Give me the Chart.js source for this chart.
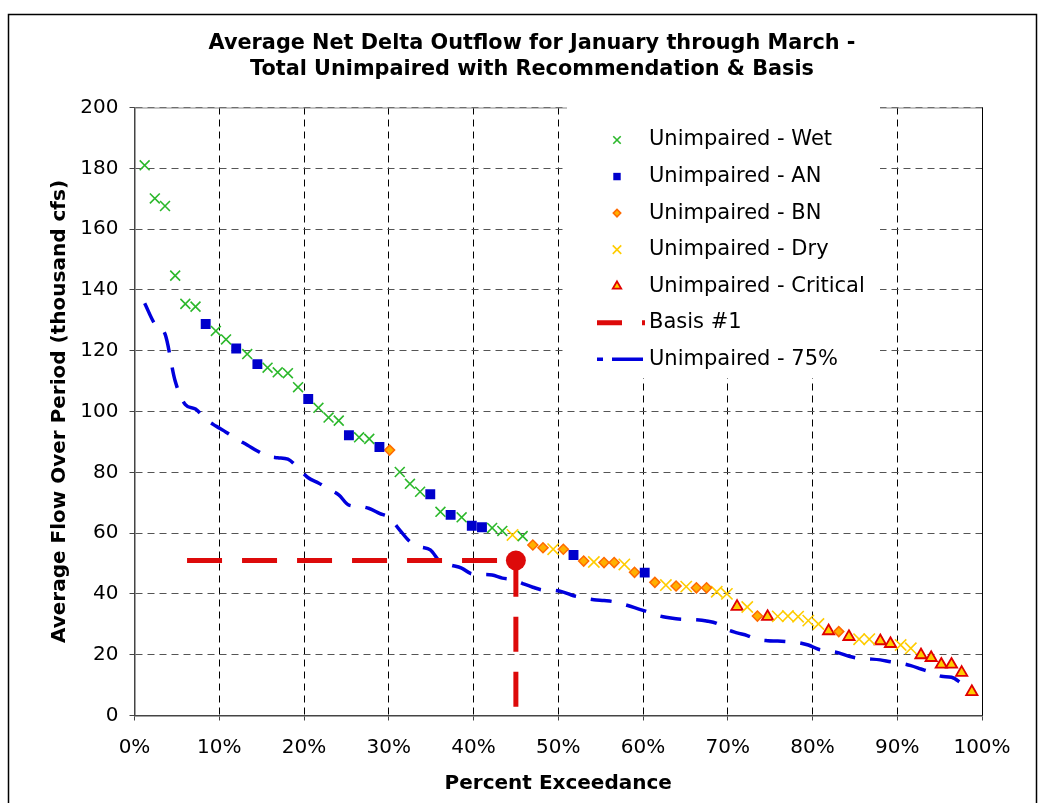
<!DOCTYPE html>
<html>
<head>
<meta charset="utf-8">
<script src="https://cdn.jsdelivr.net/npm/chart.js@4.4.1/dist/chart.umd.min.js"></script>
<style>
  html, body { margin: 0; padding: 0; background: #fff; }
  canvas { display: block; }
</style>
</head>
<body>
<canvas id="chart" width="1045" height="803"></canvas>
<script>
// Percent exceedance of each year (ranked)
const exceedance = [
  1.2, 2.4, 3.6, 4.8, 6.0, 7.2, 8.4, 9.6, 10.8, 12.0,
  13.3, 14.5, 15.7, 16.9, 18.1, 19.3, 20.5, 21.7, 22.9, 24.1,
  25.3, 26.5, 27.7, 28.9, 30.1, 31.3, 32.5, 33.7, 34.9, 36.1,
  37.3, 38.6, 39.8, 41.0, 42.2, 43.4, 44.6, 45.8, 47.0, 48.2,
  49.4, 50.6, 51.8, 53.0, 54.2, 55.4, 56.6, 57.8, 59.0, 60.2,
  61.4, 62.7, 63.9, 65.1, 66.3, 67.5, 68.7, 69.9, 71.1, 72.3,
  73.5, 74.7, 75.9, 77.1, 78.3, 79.5, 80.7, 81.9, 83.1, 84.3,
  85.5, 86.7, 88.0, 89.2, 90.4, 91.6, 92.8, 94.0, 95.2, 96.4,
  97.6, 98.8
];

// Year type of each ranked year: W wet, A above normal, B below normal, D dry, C critical
const yearType = [
  'W','W','W','W','W','W','A','W','W','A',
  'W','A','W','W','W','W','A','W','W','W',
  'A','W','W','A','B','W','W','W','A','W',
  'A','W','A','A','W','W','D','W','B','B',
  'D','B','A','B','D','B','B','D','B','A',
  'B','D','B','D','B','B','D','D','C','D',
  'B','C','D','D','D','D','D','C','B','C',
  'D','D','C','C','D','D','C','C','C','C',
  'C','C'
];

// Unimpaired average flow (thousand cfs)
const flow = [
  181.0, 170.1, 167.6, 144.7, 135.4, 134.5, 128.8, 126.5, 123.7, 120.7,
  118.9, 115.6, 114.4, 112.9, 112.6, 108.0, 104.1, 101.2, 98.0, 97.0,
  92.2, 91.5, 91.0, 88.3, 87.3, 80.1, 76.2, 73.6, 72.8, 67.0,
  66.0, 65.2, 62.4, 61.9, 61.7, 60.7, 59.4, 59.0, 56.1, 55.2,
  54.7, 54.7, 52.8, 50.8, 50.5, 50.3, 50.3, 49.7, 47.1, 47.0,
  43.8, 42.9, 42.6, 42.4, 42.0, 42.0, 40.7, 40.0, 35.8, 35.7,
  32.7, 32.5, 32.6, 32.7, 32.5, 31.2, 30.1, 27.8, 27.6, 25.9,
  25.1, 25.1, 24.5, 23.6, 23.2, 22.1, 19.9, 19.0, 16.8, 16.8,
  14.1, 7.8
];

// Unimpaired - 75% curve
const flow75 = [
  135.6, 128.8, 125.5, 110.0, 102.3, 100.8, 97.5, 95.2, 93.2, 91.0,
  89.0, 87.0, 85.3, 84.8, 84.3, 81.5, 78.2, 76.5, 74.5, 72.6,
  69.2, 68.8, 68.1, 66.5, 65.0, 61.0, 57.2, 55.5, 54.5, 50.5,
  49.5, 48.5, 46.6, 46.4, 46.2, 45.2, 44.7, 43.4, 42.2, 41.3,
  41.2, 40.6, 39.4, 38.7, 38.1, 37.8, 37.4, 36.5, 35.5, 34.4,
  33.2, 32.3, 31.8, 31.6, 31.5, 31.1, 30.3, 28.3, 27.2, 26.3,
  25.0, 24.6, 24.5, 24.3, 24.0, 23.2, 21.8, 21.2, 20.6, 19.5,
  18.8, 18.6, 18.3, 17.7, 17.2, 16.4, 15.3, 14.2, 12.9, 12.6,
  10.6, 8.5
];

// Basis #1 line: across at the basis flow, then down to the axis
const basisX = [6.2, 45.0, 45.0];
const basisY = [51.0, 51.0, 0.0];

const legendLabels = [
  'Unimpaired - Wet', 'Unimpaired - AN', 'Unimpaired - BN', 'Unimpaired - Dry',
  'Unimpaired - Critical', 'Basis #1', 'Unimpaired - 75%'
];

const FONT = 'DejaVu Sans';
const RED = '#dd0a0a';
const BLUE = '#0000dd';

function pointsOf(type) {
  const pts = [];
  yearType.forEach((t, i) => { if (t === type) pts.push({ x: exceedance[i], y: flow[i] }); });
  return pts;
}

const markerStyles = {
  W: { pointStyle: 'crossRot', radius: 7, backgroundColor: '#2cb82c', borderColor: '#2cb82c', borderWidth: 1.6 },
  A: { pointStyle: 'rect', radius: 7, backgroundColor: '#0000cc', borderColor: '#0000cc', borderWidth: 0 },
  B: { pointStyle: 'rectRot', radius: 5, backgroundColor: '#ffb000', borderColor: '#ff6a00', borderWidth: 1.5 },
  D: { pointStyle: 'crossRot', radius: 8, backgroundColor: '#ffcc00', borderColor: '#ffcc00', borderWidth: 1.6 },
  C: { pointStyle: 'triangle', radius: 6.5, backgroundColor: '#ffcc00', borderColor: '#e00000', borderWidth: 1.8 }
};

function scatterSet(label, type) {
  const s = markerStyles[type];
  return {
    label: label,
    data: pointsOf(type),
    showLine: false,
    pointStyle: s.pointStyle,
    pointRadius: s.radius,
    pointHoverRadius: s.radius,
    pointBackgroundColor: s.backgroundColor,
    pointBorderColor: s.borderColor,
    pointBorderWidth: s.borderWidth
  };
}

// legend, frame, title and plot borders
const decorations = {
  id: 'decorations',
  afterDraw(chart) {
    const ctx = chart.ctx;
    const a = chart.chartArea;
    ctx.save();

    // outer frame
    ctx.strokeStyle = '#000';
    ctx.lineWidth = 1.5;
    ctx.strokeRect(8.5, 14.5, 1028, 820);

    // top and right edges of plot area
    ctx.lineWidth = 1;
    ctx.strokeStyle = '#888';
    ctx.beginPath();
    ctx.moveTo(a.left, a.top + 0.5);
    ctx.lineTo(a.right, a.top + 0.5);
    ctx.stroke();
    ctx.strokeStyle = '#000';
    ctx.beginPath();
    ctx.moveTo(a.right + 0.5, a.top);
    ctx.lineTo(a.right + 0.5, a.bottom);
    ctx.stroke();

    // title
    ctx.fillStyle = '#000';
    ctx.font = 'bold 20.8px ' + FONT;
    ctx.textAlign = 'center';
    ctx.textBaseline = 'middle';
    ctx.fillText('Average Net Delta Outflow for January through March -', 532, 44);
    ctx.fillText('Total Unimpaired with Recommendation & Basis', 532, 70);

    // legend box
    ctx.fillStyle = '#fff';
    ctx.fillRect(567, 104, 313, 274);

    const mx = 617, tx = 649, y0 = 140, dy = 36.55;
    ['W', 'A', 'B', 'D', 'C'].forEach((t, i) => {
      const s = markerStyles[t];
      ctx.fillStyle = s.backgroundColor;
      ctx.strokeStyle = s.borderColor;
      ctx.lineWidth = s.borderWidth;
      Chart.helpers.drawPoint(ctx, {
        pointStyle: s.pointStyle, radius: s.radius * 0.75, borderWidth: s.borderWidth, rotation: 0
      }, mx, y0 + i * dy);
    });

    // line samples
    ctx.lineCap = 'butt';
    ctx.strokeStyle = RED;
    ctx.lineWidth = 5;
    ctx.setLineDash([25, 20]);
    ctx.beginPath();
    ctx.moveTo(597, y0 + 5 * dy);
    ctx.lineTo(645, y0 + 5 * dy);
    ctx.stroke();
    ctx.strokeStyle = BLUE;
    ctx.lineWidth = 3.5;
    ctx.setLineDash([6, 9, 31, 9]);
    ctx.beginPath();
    ctx.moveTo(597, y0 + 6 * dy);
    ctx.lineTo(643, y0 + 6 * dy);
    ctx.stroke();
    ctx.setLineDash([]);

    ctx.fillStyle = '#000';
    ctx.font = '21px ' + FONT;
    ctx.textAlign = 'left';
    ctx.textBaseline = 'middle';
    legendLabels.forEach((lab, i) => ctx.fillText(lab, tx, y0 + i * dy));

    ctx.restore();
  }
};

new Chart(document.getElementById('chart'), {
  type: 'scatter',
  data: {
    datasets: [
      {
        label: 'Basis #1',
        data: basisX.map((x, i) => ({ x: x, y: basisY[i] })),
        showLine: true,
        borderColor: RED,
        borderWidth: 5,
        borderDash: [35, 20],
        borderCapStyle: 'butt',
        pointRadius: [0, 10, 0],
        pointHoverRadius: [0, 10, 0],
        pointBackgroundColor: RED,
        pointBorderColor: RED,
        pointBorderWidth: 0
      },
      scatterSet('Unimpaired - Wet', 'W'),
      scatterSet('Unimpaired - AN', 'A'),
      scatterSet('Unimpaired - BN', 'B'),
      scatterSet('Unimpaired - Dry', 'D'),
      scatterSet('Unimpaired - Critical', 'C'),
      {
        label: 'Unimpaired - 75%',
        data: exceedance.map((x, i) => ({ x: x, y: flow75[i] })),
        showLine: true,
        borderColor: BLUE,
        borderWidth: 3.5,
        borderDash: [21, 15],
        borderCapStyle: 'butt',
        cubicInterpolationMode: 'monotone',
        pointRadius: 0,
        pointHoverRadius: 0
      }
    ]
  },
  options: {
    responsive: false,
    animation: false,
    devicePixelRatio: 1,
    layout: { padding: { left: 0, top: 107.5, right: 63, bottom: 0 } },
    plugins: {
      legend: { display: false },
      title: { display: false },
      tooltip: { enabled: false }
    },
    scales: {
      x: {
        type: 'linear',
        min: 0,
        max: 100,
        afterFit: s => { s.height = 87.5; },
        ticks: {
          stepSize: 10,
          padding: 15,
          color: '#000',
          font: { family: FONT, size: 20 },
          maxRotation: 0,
          callback: v => v + '%'
        },
        grid: {
          color: '#000',
          lineWidth: 1,
          tickLength: 5,
          tickColor: '#444',
          tickBorderDash: []
        },
        border: { color: '#444', width: 1.5, dash: [7, 5] },
        title: {
          display: true,
          text: 'Percent Exceedance',
          color: '#000',
          font: { family: FONT, size: 20, weight: 'bold' },
          padding: { top: 0, bottom: 7 }
        }
      },
      y: {
        type: 'linear',
        min: 0,
        max: 200,
        afterFit: s => { s.width = 134.5; },
        ticks: {
          stepSize: 20,
          padding: 11,
          color: '#000',
          font: { family: FONT, size: 20 }
        },
        grid: {
          color: '#555',
          lineWidth: 1,
          tickLength: 5,
          tickColor: '#444',
          tickBorderDash: []
        },
        border: { color: '#444', width: 1.5, dash: [7, 5] },
        title: {
          display: true,
          text: 'Average Flow Over Period (thousand cfs)',
          color: '#000',
          font: { family: FONT, size: 20, weight: 'bold' },
          padding: { top: 48, bottom: 0 }
        }
      }
    }
  },
  plugins: [decorations]
});
</script>
</body>
</html>
